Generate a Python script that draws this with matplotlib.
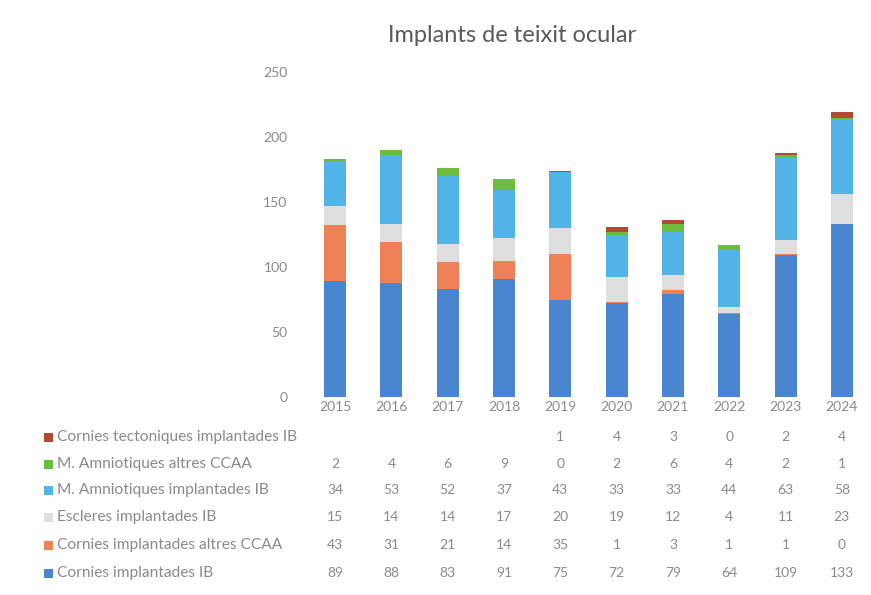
import matplotlib
matplotlib.use('Agg')
import matplotlib.pyplot as plt
from matplotlib.patches import Rectangle
import numpy as np

YEARS = ['2015', '2016', '2017', '2018', '2019', '2020', '2021', '2022', '2023', '2024']

# series, bottom to top of the stack
CORNIES_IB      = [89, 88, 83, 91, 75, 72, 79, 64, 109, 133]
CORNIES_ALTRES  = [43, 31, 21, 14, 35, 1, 3, 1, 1, 0]
ESCLERES_IB     = [15, 14, 14, 17, 20, 19, 12, 4, 11, 23]
AMNIO_IB        = [34, 53, 52, 37, 43, 33, 33, 44, 63, 58]
AMNIO_ALTRES    = [2, 4, 6, 9, 0, 2, 6, 4, 2, 1]
TECTONIQUES_IB  = [None, None, None, None, 1, 4, 3, 0, 2, 4]

SERIES = [
    ('Cornies implantades IB',            CORNIES_IB,     '#4a86cf'),
    ('Cornies implantades altres CCAA',   CORNIES_ALTRES, '#ef8156'),
    ('Escleres implantades IB',           ESCLERES_IB,    '#dedede'),
    ('M. Amniotiques implantades IB',     AMNIO_IB,       '#52b4e6'),
    ('M. Amniotiques altres CCAA',        AMNIO_ALTRES,   '#6cbd3e'),
    ('Cornies tectoniques implantades IB', TECTONIQUES_IB, '#b24a33'),
]

TXT = '#8a8a8a'
plt.rcParams['font.family'] = ['Lato', 'DejaVu Sans']

fig = plt.figure(figsize=(8.71, 5.95), dpi=100)
W, H = 871, 595
x_left, x_right, y_bot, y_top = 307, 870, 397, 72
ax = fig.add_axes([x_left / W, 1 - y_bot / H, (x_right - x_left) / W, (y_bot - y_top) / H])

x = np.arange(len(YEARS))
bottom = np.zeros(len(YEARS))
for name, vals, col in SERIES:
    v = np.array([0 if a is None else a for a in vals], dtype=float)
    ax.bar(x, v, 0.39, bottom=bottom, color=col, linewidth=0)
    bottom += v

ax.set_xlim(-0.5, len(YEARS) - 0.5)
ax.set_ylim(0, 250)
ax.set_yticks(np.arange(0, 251, 50))
ax.set_xticks(x)
ax.set_xticklabels(YEARS)
ax.tick_params(axis='both', length=0, colors=TXT, labelsize=10)
ax.tick_params(axis='x', pad=3)
ax.tick_params(axis='y', pad=14)
for s in ax.spines.values():
    s.set_visible(False)

fig.text(512 / W, 1 - 35 / H, 'Implants de teixit ocular', ha='center', va='center',
         fontsize=17, color='#5a5a5a')

# data table below the chart
row_y = [573, 545, 517, 490, 464, 437]
trans = ax.get_xaxis_transform()
for (name, vals, col), py in zip(SERIES, row_y):
    yf = 1 - py / H
    fig.add_artist(Rectangle((44 / W, yf - 4.5 / H), 9 / W, 9 / H,
                             transform=fig.transFigure, color=col, lw=0))
    fig.text(57 / W, yf, name, ha='left', va='center', fontsize=11.2, color=TXT)
    ya = (y_bot - py) / (y_bot - y_top)
    for i, a in enumerate(vals):
        if a is None:
            continue
        ax.text(i, ya, str(a), transform=trans, ha='center', va='center',
                fontsize=10, color=TXT, clip_on=False)

fig.savefig('out.png', dpi=100, facecolor='white')
